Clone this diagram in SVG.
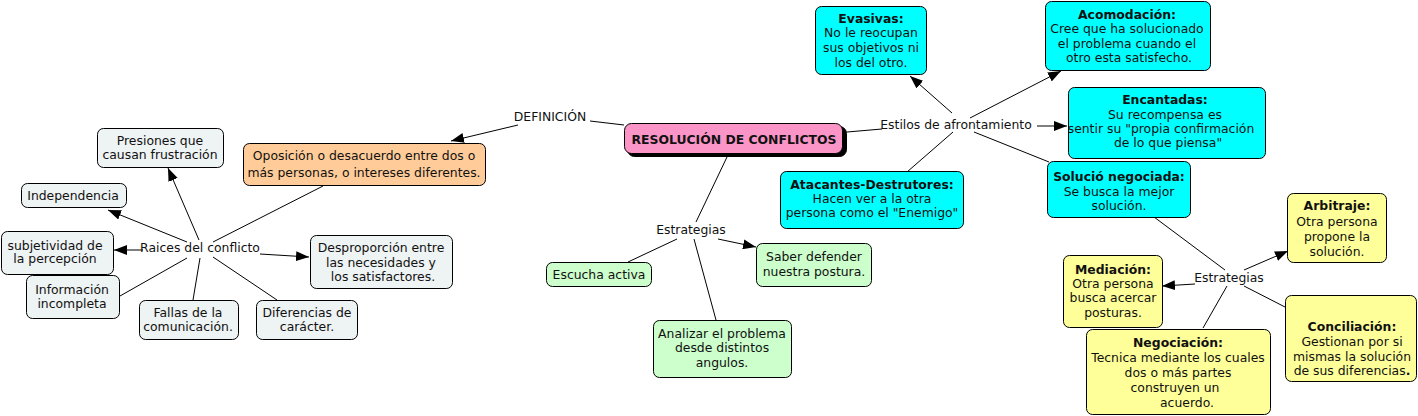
<svg xmlns="http://www.w3.org/2000/svg" width="1418" height="416" viewBox="0 0 1418 416">
<defs>
<marker id="ar" markerUnits="userSpaceOnUse" markerWidth="14" markerHeight="10" refX="13" refY="5" orient="auto">
<path d="M0,0 L13,5 L0,10 Z" fill="#000"/>
</marker>
<style>
text{font-family:"DejaVu Sans",Verdana,sans-serif;font-size:12.4px;fill:#111;text-anchor:middle}
.b{font-weight:bold}
rect{stroke:#000;stroke-width:1}
.g{fill:#eef3f4}
.o{fill:#ffcc99}
.gr{fill:#ccffcc}
.c{fill:#00ffff}
.y{fill:#ffff99}
.l{stroke:#000;stroke-width:1;fill:none}
.a{marker-end:url(#ar)}
</style>
</defs>
<g id="connectors">
<line class="l" x1="624" y1="125" x2="590" y2="121"/>
<line class="a l" x1="518" y1="125" x2="451" y2="141"/>
<line class="l" x1="323" y1="186" x2="213" y2="242"/>
<line class="a l" x1="199" y1="240" x2="168" y2="168"/>
<line class="a l" x1="187" y1="242" x2="108" y2="210"/>
<line class="a l" x1="143" y1="250" x2="114" y2="250"/>
<line class="l" x1="187" y1="258" x2="120" y2="296"/>
<line class="l" x1="200" y1="258" x2="193" y2="300"/>
<line class="l" x1="213" y1="257" x2="277" y2="300"/>
<line class="a l" x1="260" y1="254" x2="309" y2="257"/>
<line class="l" x1="727" y1="157" x2="696" y2="222"/>
<line class="l" x1="677" y1="239" x2="628" y2="262"/>
<line class="l" x1="694" y1="239" x2="716" y2="320"/>
<line class="a l" x1="718" y1="239" x2="756" y2="247"/>
<line class="l" x1="847" y1="132" x2="882" y2="129"/>
<line class="a l" x1="952" y1="113" x2="910" y2="76"/>
<line class="a l" x1="970" y1="118" x2="1061" y2="71"/>
<line class="a l" x1="1037" y1="126" x2="1067" y2="126"/>
<line class="l" x1="974" y1="132" x2="1049" y2="162"/>
<line class="l" x1="953" y1="132" x2="907" y2="172"/>
<line class="l" x1="1154" y1="217" x2="1225" y2="270"/>
<line class="a l" x1="1244" y1="270" x2="1288" y2="251"/>
<line class="a l" x1="1195" y1="284" x2="1162" y2="286"/>
<line class="l" x1="1244" y1="286" x2="1285" y2="307"/>
<line class="l" x1="1227" y1="286" x2="1203" y2="328"/>
</g>
<g id="root">
<rect x="627.5" y="126.5" width="219" height="30" rx="7" fill="#000"/>
<rect x="624.5" y="123.5" width="218" height="30" rx="7" fill="#fb95c8"/>
<text class="b" x="734" y="144">RESOLUCIÓN DE CONFLICTOS</text>
</g>
<g id="lbl-definicion"><text x="550" y="121">DEFINICIÓN</text></g>
<g id="oposicion">
<rect class="o" x="243.5" y="143.5" width="242" height="42" rx="6"/>
<text x="364" y="160">Oposición o desacuerdo entre dos o</text>
<text x="364" y="177">más personas, o intereses diferentes.</text>
</g>
<g id="lbl-raices"><text x="200" y="252">Raices del conflicto</text></g>
<g id="presiones">
<rect class="g" x="97.5" y="128.5" width="126" height="39" rx="6"/>
<text x="160" y="145">Presiones que</text>
<text x="160" y="159">causan frustración</text>
</g>
<g id="independencia">
<rect class="g" x="21.5" y="183.5" width="105" height="24" rx="6"/>
<text x="73" y="200">Independencia</text>
</g>
<g id="subjetividad">
<rect class="g" x="1.5" y="231.5" width="112" height="43" rx="6"/>
<text x="55" y="250">subjetividad de</text>
<text x="55" y="263">la percepción</text>
</g>
<g id="informacion">
<rect class="g" x="26.5" y="275.5" width="93" height="43" rx="6"/>
<text x="72" y="294">Información</text>
<text x="72" y="308">incompleta</text>
</g>
<g id="fallas">
<rect class="g" x="139.5" y="300.5" width="99" height="39" rx="6"/>
<text x="188" y="317">Fallas de la</text>
<text x="188" y="331">comunicación.</text>
</g>
<g id="diferencias">
<rect class="g" x="256.5" y="300.5" width="101" height="39" rx="6"/>
<text x="307" y="317">Diferencias de</text>
<text x="307" y="331">carácter.</text>
</g>
<g id="desproporcion">
<rect class="g" x="310.5" y="235.5" width="142" height="53" rx="6"/>
<text x="381" y="252">Desproporción entre</text>
<text x="381" y="267">las necesidades y</text>
<text x="383" y="281">los satisfactores.</text>
</g>
<g id="lbl-estrategias1"><text x="691" y="234">Estrategias</text></g>
<g id="escucha">
<rect class="gr" x="546.5" y="262.5" width="105" height="24" rx="6"/>
<text x="599" y="279">Escucha activa</text>
</g>
<g id="saber">
<rect class="gr" x="756.5" y="243.5" width="115" height="43" rx="6"/>
<text x="814" y="261">Saber defender</text>
<text x="814" y="276">nuestra postura.</text>
</g>
<g id="analizar">
<rect class="gr" x="653.5" y="320.5" width="138" height="57" rx="6"/>
<text x="722" y="338">Analizar el problema</text>
<text x="722" y="352">desde distintos</text>
<text x="722" y="367">angulos.</text>
</g>
<g id="lbl-estilos"><text x="956" y="129">Estilos de afrontamiento</text></g>
<g id="evasivas">
<rect class="c" x="815.5" y="6.5" width="111" height="68" rx="6"/>
<text class="b" x="871" y="23">Evasivas:</text>
<text x="871" y="37">No le reocupan</text>
<text x="871" y="52">sus objetivos ni</text>
<text x="871" y="67">los del otro.</text>
</g>
<g id="acomodacion">
<rect class="c" x="1045.5" y="1.5" width="165" height="69" rx="6"/>
<text class="b" x="1127" y="19">Acomodación:</text>
<text x="1127" y="33">Cree que ha solucionado</text>
<text x="1127" y="48">el problema cuando el</text>
<text x="1129" y="62">otro esta satisfecho.</text>
</g>
<g id="encantadas">
<rect class="c" x="1068.5" y="87.5" width="197" height="71" rx="6"/>
<text class="b" x="1165" y="104">Encantadas:</text>
<text x="1165" y="119">Su recompensa es</text>
<text x="1161" y="133">sentir su "propia confirmación</text>
<text x="1168" y="147">de lo que piensa"</text>
</g>
<g id="solucio">
<rect class="c" x="1047.5" y="161.5" width="143" height="56" rx="6"/>
<text class="b" x="1119" y="181">Solució negociada:</text>
<text x="1119" y="196">Se busca la mejor</text>
<text x="1119" y="210">solución.</text>
</g>
<g id="atacantes">
<rect class="c" x="780.5" y="171.5" width="183" height="57" rx="6"/>
<text class="b" x="872" y="189">Atacantes-Destrutores:</text>
<text x="872" y="203">Hacen ver a la otra</text>
<text x="872" y="217">persona como el "Enemigo"</text>
</g>
<g id="lbl-estrategias2"><text x="1229" y="282">Estrategias</text></g>
<g id="arbitraje">
<rect class="y" x="1287.5" y="193.5" width="99" height="69" rx="6"/>
<text class="b" x="1337" y="210">Arbitraje:</text>
<text x="1337" y="226">Otra persona</text>
<text x="1337" y="241">propone la</text>
<text x="1337" y="256">solución.</text>
</g>
<g id="mediacion">
<rect class="y" x="1063.5" y="255.5" width="99" height="72" rx="6"/>
<text class="b" x="1113" y="274">Mediación:</text>
<text x="1113" y="288">Otra persona</text>
<text x="1113" y="302">busca acercar</text>
<text x="1113" y="317">posturas.</text>
</g>
<g id="conciliacion">
<rect class="y" x="1285.5" y="295.5" width="131" height="86" rx="6"/>
<text class="b" x="1352" y="331">Conciliación:</text>
<text x="1352" y="346">Gestionan por si</text>
<text x="1352" y="361">mismas la solución</text>
<text x="1352" y="375">de sus diferencias<tspan class="b">.</tspan></text>
</g>
<g id="negociacion">
<rect class="y" x="1086.5" y="329.5" width="184" height="85" rx="6"/>
<text class="b" x="1178" y="347">Negociación:</text>
<text x="1178" y="362">Tecnica mediante los cuales</text>
<text x="1178" y="377">dos o más partes</text>
<text x="1175" y="392">construyen un</text>
<text x="1187" y="407">acuerdo.</text>
</g>
</svg>
